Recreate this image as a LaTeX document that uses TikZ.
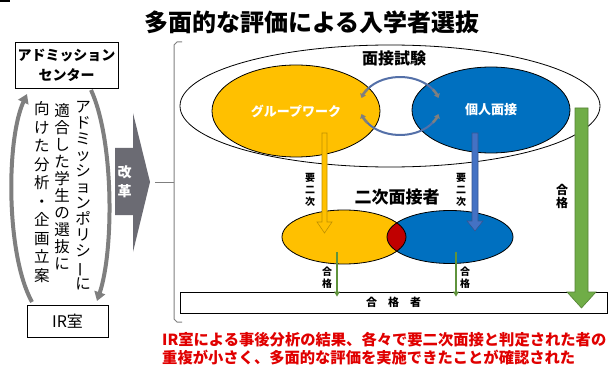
\documentclass[tikz,border=0pt]{standalone}
\usepackage{fontspec}
\setmainfont{Noto Sans CJK JP}
\usetikzlibrary{arrows.meta,shapes.geometric}
\definecolor{gold}{HTML}{FFC000}
\definecolor{blu}{HTML}{0070C0}
\definecolor{lblu}{HTML}{4472C4}
\definecolor{cblu}{HTML}{5470A8}
\definecolor{grn}{HTML}{70AD47}
\definecolor{gry}{HTML}{7F7F7F}
\definecolor{dgry}{HTML}{6B6B73}
\definecolor{redt}{HTML}{E00000}
\definecolor{lens}{HTML}{C00000}
\newcommand{\vbar}{\rotatebox[origin=c]{90}{ー}}
\tikzset{
  boxnode/.style={draw=black, line width=0.8pt, fill=white, align=center, inner sep=0pt},
  vtext/.style={align=center, inner sep=0pt},
  lab/.style={align=center, inner sep=0pt, font=\fontsize{10}{12}\selectfont\bfseries},
  ell/.style={draw=black, line width=0.8pt, ellipse, inner sep=0pt},
  grayarc/.style={draw=gry, line width=4pt, -{Triangle[length=9pt,width=11pt]}},
  thinarrow/.style={draw=grn!85!black, line width=1.5pt, -{Triangle[length=5pt,width=5.5pt]}},
  cyc/.style={draw=cblu, line width=2pt},
  cychead/.style={draw=gry, line width=2.6pt, -{Triangle[length=4pt,width=6pt]}},
}
\begin{document}
\begin{tikzpicture}[x=1pt,y=-1pt]
\useasboundingbox (0,0) rectangle (614,369);
\fill[black] (0,0) rectangle (10,2.5);

% title
\node[inner sep=0pt, font=\fontsize{24}{26}\selectfont\bfseries] (title) at (312,22) {多面的な評価による入学者選抜};

% left side
\node[boxnode, minimum width=103pt, minimum height=46pt, font=\fontsize{14}{20}\selectfont\bfseries] (adm) at (66.5,65) {アドミッション\\センター};
\node[boxnode, minimum width=81pt, minimum height=32pt, font=\fontsize{16}{18}\selectfont] (ir) at (67.5,321) {IR室};

\coordinate (la) at (32,302);
\coordinate (lb) at (27,94);
\coordinate (ra) at (91,90);
\coordinate (rb) at (97,301);
\draw[grayarc] (la) .. controls (6,255) and (6,140) .. (lb);
\draw[grayarc] (ra) .. controls (114,140) and (114,250) .. (rb);

\node[vtext, font=\fontsize{15.5}{16}\selectfont] (c1) at (83,196) {ア\\ド\\ミ\\ッ\\シ\\ョ\\ン\\ポ\\リ\\シ\\\vbar\\に};
\node[vtext, font=\fontsize{15.5}{17}\selectfont] (c2) at (62,187) {適\\合\\し\\た\\学\\生\\の\\選\\抜\\に};
\node[vtext, font=\fontsize{15.5}{18.5}\selectfont] (c3) at (42,192) {向\\け\\た\\分\\析\\・\\企\\画\\立\\案};

% reform arrow
\fill[dgry] (115,148) -- (133,148) -- (133,113) -- (150,182) -- (133,252) -- (133,215) -- (115,215) -- cycle;
\node[vtext, white, font=\fontsize{14}{19}\selectfont\bfseries] (kaikaku) at (124.5,182) {改\\革};

% bracket
\draw[gry, line width=1pt] (182,42) -- (177,42) -- (174,45) -- (174,319) -- (177,322) -- (182,322);
\draw[gry, line width=1pt] (174,182) -- (155,182);

% big ellipse
\node[ell, fill=white, minimum width=420pt, minimum height=122pt] (exam) at (390,106) {};
\node[inner sep=0pt, font=\fontsize{16}{18}\selectfont\bfseries] (examl) at (394,58) {面接試験};

\node[ell, fill=gold, minimum width=168pt, minimum height=92pt, text=white, font=\fontsize{13}{15}\selectfont\bfseries] (gw) at (296,111) {グループワーク};
\node[ell, fill=blu, minimum width=158pt, minimum height=86pt, text=white, font=\fontsize{13}{15}\selectfont\bfseries] (ind) at (491,110) {個人面接};

% cycle arrows
\draw[cyc] (400,106) ++(215:40pt and 29pt) arc[start angle=215, end angle=325, x radius=40pt, y radius=29pt];
\draw[cyc] (400,106) ++(145:40pt and 29pt) arc[start angle=145, end angle=35, x radius=40pt, y radius=29pt];
\draw[cychead] (400,106) ++(215:40pt and 29pt) arc[start angle=215, end angle=196, x radius=40pt, y radius=29pt];
\draw[cychead] (400,106) ++(325:40pt and 29pt) arc[start angle=325, end angle=344, x radius=40pt, y radius=29pt];
\draw[cychead] (400,106) ++(145:40pt and 29pt) arc[start angle=145, end angle=164, x radius=40pt, y radius=29pt];
\draw[cychead] (400,106) ++(35:40pt and 29pt) arc[start angle=35, end angle=16, x radius=40pt, y radius=29pt];

% lower ellipses
\node[ell, draw=none, fill=gold, minimum width=124pt, minimum height=54pt] (og) at (344,237) {};
\node[ell, draw=none, fill=blu, minimum width=126pt, minimum height=53pt] (ob) at (450,237) {};
\begin{scope}
  \clip (344,237) ellipse [x radius=62pt, y radius=27pt];
  \fill[lens] (450,237) ellipse [x radius=63pt, y radius=26.5pt];
\end{scope}
\draw[line width=0.8pt] (344,237) ellipse [x radius=62pt, y radius=27pt];
\draw[line width=0.8pt] (450,237) ellipse [x radius=63pt, y radius=26.5pt];

\node[inner sep=0pt, font=\fontsize{17}{19}\selectfont\bfseries] (second) at (397,197) {二次面接者};

% down arrows
\draw[fill=gold, draw=gold!75!black, line width=0.6pt] (322,133) -- (327,133) -- (327,222) -- (332,222) -- (324.5,233) -- (317,222) -- (322,222) -- cycle;
\draw[fill=lblu, draw=lblu!75!black, line width=0.6pt] (472,133) -- (478,133) -- (478,221) -- (483,221) -- (475,231) -- (467,221) -- (472,221) -- cycle;
\node[lab] (l1) at (310,190) {要\\二\\次};
\node[lab] (l2) at (461,190) {要\\二\\次};

% pass box
\node[boxnode, minimum width=427pt, minimum height=21pt, font=\fontsize{11}{13}\selectfont\bfseries] (pass) at (393.5,302.5) {合　格　者};

% green arrows
\draw[fill=grn, draw=grn!75!black, line width=0.6pt] (575,108) -- (588,108) -- (588,292) -- (596,292) -- (581.5,308) -- (567,292) -- (575,292) -- cycle;
\node[lab, font=\fontsize{12}{13}\selectfont\bfseries] (l3) at (562,196) {合\\格};
\coordinate (g1) at (337,252);
\coordinate (g2) at (456,252);
\draw[thinarrow] (g1) -- ([yshift=-5pt]g1 |- pass.north);
\draw[thinarrow] (g2) -- ([yshift=-5pt]g2 |- pass.north);
\node[lab] (l4) at (327,278) {合\\格};
\node[lab] (l5) at (465,278) {合\\格};

% red text
\node[anchor=west, inner sep=0pt, text=redt, font=\fontsize{15.3}{18}\selectfont\bfseries] (r1) at (162,340) {IR室による事後分析の結果、各々で要二次面接と判定された者の};
\node[anchor=west, inner sep=0pt, text=redt, font=\fontsize{15.3}{18}\selectfont\bfseries] (r2) at (162,358) {重複が小さく、多面的な評価を実施できたことが確認された};
\end{tikzpicture}
\end{document}
